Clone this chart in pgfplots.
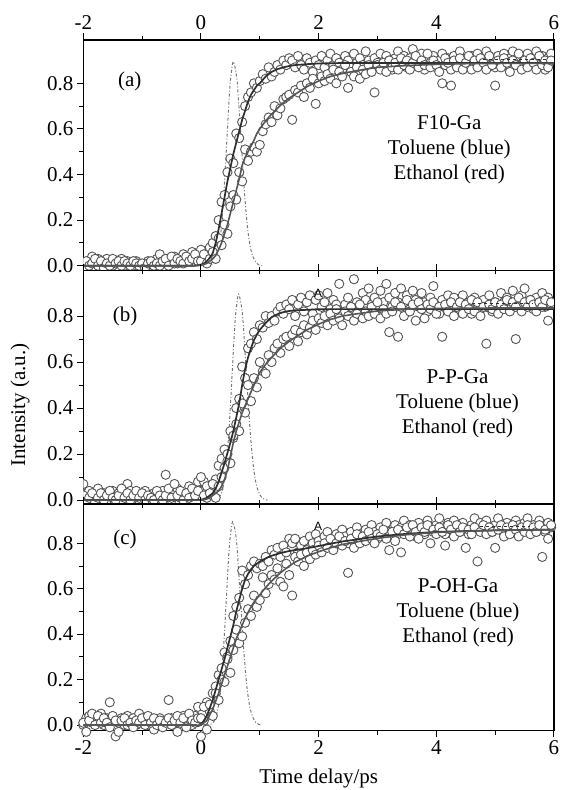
\documentclass[border=0pt]{standalone}
\usepackage{pgfplots}
\pgfplotsset{compat=1.18}
\usepackage{pgfplotstable}
\usepackage{fontspec}
\setmainfont{Liberation Serif}
\newfontfamily\sansA{Liberation Sans}
\definecolor{circ}{HTML}{555555}
\definecolor{fastc}{HTML}{2E2E2E}
\definecolor{slowc}{HTML}{555555}
\definecolor{pulsec}{HTML}{777777}

% measured points: t, (a) toluene/ethanol, (b) ..., (c) ...
\pgfplotstableread{
t a1 a2 b1 b2 c1 c2
-2.00 0.01 -0.01 0.07 0.02 0.00 0.01
-1.95 0.00 0.02 0.03 -0.01 0.03 -0.03
-1.90 0.02 0.00 0.04 0.01 0.04 0.02
-1.85 0.04 0.01 0.00 0.03 0.01 0.05
-1.80 0.01 0.03 0.02 -0.01 0.03 0.00
-1.75 0.03 0.00 0.05 0.01 0.02 0.04
-1.70 0.00 0.02 0.01 0.03 0.05 0.01
-1.65 0.02 -0.01 0.03 0.00 0.00 0.03
-1.60 0.03 0.01 0.00 0.02 0.03 0.01
-1.55 0.01 0.00 0.02 0.04 0.10 -0.01
-1.50 0.00 0.03 0.04 0.01 0.02 0.04
-1.45 0.02 0.01 0.01 0.00 -0.05 0.02
-1.40 0.01 0.02 0.03 0.02 0.01 -0.03
-1.35 0.03 0.00 0.00 0.05 0.03 0.02
-1.30 0.00 0.02 0.02 0.01 0.00 0.03
-1.25 0.02 0.01 0.07 0.03 0.04 0.00
-1.20 0.01 0.00 0.04 0.00 0.02 0.01
-1.15 0.00 0.02 0.01 0.02 0.03 -0.01
-1.10 0.02 0.01 0.03 0.04 0.00 0.02
-1.05 0.01 0.00 0.00 0.01 0.05 0.01
-1.00 0.00 0.01 0.02 0.03 0.01 0.03
-0.95 0.01 -0.01 0.04 0.00 0.03 0.00
-0.90 0.02 0.01 0.01 0.02 0.00 0.04
-0.85 0.00 0.02 0.00 0.01 0.02 0.01
-0.80 0.01 0.00 0.03 0.00 -0.02 0.03
-0.75 0.03 0.01 0.02 0.04 0.01 0.00
-0.70 0.05 0.00 0.01 0.02 0.03 0.02
-0.65 0.02 0.02 0.04 0.00 0.00 -0.01
-0.60 0.01 0.03 0.11 0.02 0.02 0.01
-0.55 0.03 0.00 0.02 0.05 0.11 0.03
-0.50 0.02 0.04 0.00 0.01 0.03 0.00
-0.45 0.04 0.01 0.03 0.07 0.01 0.02
-0.40 0.01 0.03 0.05 0.02 -0.03 0.04
-0.35 0.03 0.02 0.01 0.04 0.02 0.01
-0.30 0.05 0.01 0.02 0.00 0.04 0.03
-0.25 0.02 0.04 0.00 0.03 0.01 -0.01
-0.20 0.04 0.02 0.06 0.01 0.03 0.05
-0.15 0.06 0.03 0.03 0.05 0.00 0.02
-0.10 0.03 0.05 0.05 0.02 0.04 0.01
-0.05 0.05 0.02 0.08 0.04 0.08 0.03
0.00 0.07 0.02 0.04 0.10 -0.05 0.03
0.05 0.03 0.05 0.08 0.02 0.02 0.08
0.10 0.05 0.01 0.01 0.06 0.10 -0.02
0.15 0.08 0.03 0.05 0.03 0.06 0.09
0.20 0.10 0.06 0.02 0.07 0.14 0.04
0.25 0.13 0.03 0.09 0.01 0.17 0.14
0.30 0.20 0.12 0.15 0.06 0.22 0.11
0.35 0.28 0.09 0.18 0.10 0.20 0.25
0.40 0.31 0.18 0.22 0.14 0.32 0.19
0.45 0.41 0.14 0.17 0.20 0.30 0.29
0.50 0.47 0.26 0.30 0.16 0.37 0.23
0.55 0.45 0.31 0.27 0.28 0.48 0.33
0.60 0.58 0.29 0.40 0.33 0.52 0.42
0.65 0.56 0.41 0.44 0.30 0.56 0.36
0.70 0.63 0.37 0.58 0.42 0.68 0.39
0.75 0.70 0.51 0.53 0.38 0.62 0.45
0.80 0.74 0.46 0.66 0.50 0.66 0.51
0.85 0.76 0.50 0.68 0.43 0.70 0.48
0.90 0.80 0.52 0.73 0.53 0.72 0.57
0.95 0.78 0.50 0.70 0.49 0.69 0.52
1.00 0.81 0.53 0.76 0.60 0.71 0.55
1.05 0.84 0.59 0.75 0.56 0.70 0.65
1.10 0.82 0.62 0.80 0.55 0.74 0.58
1.15 0.87 0.65 0.77 0.63 0.72 0.62
1.20 0.83 0.63 0.80 0.60 0.77 0.66
1.25 0.85 0.70 0.78 0.66 0.75 0.64
1.30 0.88 0.66 0.82 0.68 0.78 0.69
1.35 0.86 0.69 0.84 0.64 0.74 0.63
1.40 0.90 0.73 0.81 0.70 0.79 0.61
1.45 0.88 0.74 0.85 0.71 0.76 0.71
1.50 0.91 0.75 0.83 0.67 0.82 0.66
1.55 0.90 0.64 0.87 0.72 0.80 0.57
1.60 0.87 0.77 0.80 0.74 0.82 0.74
1.65 0.92 0.76 0.85 0.69 0.76 0.72
1.70 0.88 0.79 0.88 0.73 0.79 0.75
1.75 0.86 0.74 0.82 0.76 0.81 0.70
1.80 0.91 0.80 0.86 0.72 0.77 0.76
1.85 0.89 0.78 0.89 0.75 0.83 0.73
1.90 0.85 0.82 0.81 0.78 0.80 0.77
1.95 0.90 0.71 0.87 0.74 0.84 0.75
2.00 0.88 0.80 0.89 0.79 0.81 0.79
2.05 0.92 0.83 0.84 0.77 0.78 0.76
2.10 0.87 0.81 0.86 0.80 0.83 0.80
2.15 0.90 0.84 0.90 0.76 0.85 0.78
2.20 0.93 0.82 0.83 0.81 0.80 0.82
2.25 0.88 0.86 0.87 0.78 0.82 0.77
2.30 0.91 0.80 0.85 0.83 0.84 0.80
2.35 0.89 0.85 0.94 0.79 0.81 0.83
2.40 0.86 0.83 0.82 0.76 0.86 0.79
2.45 0.92 0.88 0.85 0.82 0.83 0.81
2.50 0.90 0.78 0.88 0.80 0.80 0.67
2.55 0.87 0.85 0.84 0.84 0.85 0.82
2.60 0.93 0.83 0.96 0.78 0.82 0.78
2.65 0.89 0.87 0.86 0.81 0.87 0.84
2.70 0.91 0.82 0.83 0.85 0.84 0.80
2.75 0.88 0.86 0.90 0.79 0.81 0.83
2.80 0.94 0.84 0.87 0.82 0.86 0.81
2.85 0.90 0.88 0.92 0.80 0.83 0.85
2.90 0.87 0.85 0.85 0.84 0.88 0.82
2.95 0.91 0.76 0.88 0.81 0.85 0.80
3.00 0.89 0.88 0.83 0.86 0.82 0.84
3.05 0.93 0.86 0.91 0.79 0.87 0.83
3.10 0.88 0.89 0.86 0.83 0.84 0.86
3.15 0.92 0.85 0.94 0.81 0.89 0.82
3.20 0.90 0.90 0.88 0.73 0.85 0.77
3.25 0.86 0.87 0.84 0.82 0.83 0.85
3.30 0.91 0.89 0.90 0.86 0.88 0.81
3.35 0.94 0.86 0.86 0.71 0.84 0.86
3.40 0.89 0.91 0.92 0.84 0.87 0.76
3.45 0.92 0.88 0.85 0.80 0.90 0.84
3.50 0.87 0.90 0.89 0.87 0.85 0.87
3.55 0.91 0.86 0.83 0.82 0.88 0.83
3.60 0.95 0.89 0.91 0.85 0.86 0.88
3.65 0.88 0.92 0.87 0.78 0.83 0.85
3.70 0.90 0.87 0.84 0.86 0.89 0.82
3.75 0.93 0.90 0.90 0.83 0.86 0.87
3.80 0.86 0.88 0.86 0.79 0.84 0.85
3.85 0.91 0.93 0.82 0.85 0.90 0.88
3.90 0.89 0.87 0.88 0.83 0.87 0.80
3.95 0.92 0.90 0.93 0.86 0.85 0.86
4.00 0.87 0.88 0.85 0.81 0.88 0.84
4.05 0.90 0.85 0.81 0.84 0.91 0.87
4.10 0.93 0.80 0.87 0.71 0.86 0.85
4.15 0.88 0.91 0.84 0.85 0.84 0.79
4.20 0.91 0.89 0.89 0.82 0.89 0.88
4.25 0.86 0.79 0.83 0.86 0.86 0.86
4.30 0.92 0.90 0.88 0.80 0.90 0.83
4.35 0.89 0.87 0.85 0.84 0.87 0.88
4.40 0.94 0.91 0.82 0.86 0.85 0.85
4.45 0.88 0.86 0.89 0.81 0.89 0.87
4.50 0.91 0.89 0.84 0.85 0.86 0.78
4.55 0.87 0.92 0.86 0.83 0.84 0.86
4.60 0.92 0.86 0.81 0.87 0.88 0.84
4.65 0.89 0.90 0.88 0.82 0.91 0.87
4.70 0.93 0.87 0.85 0.86 0.86 0.72
4.75 0.88 0.91 0.83 0.80 0.89 0.85
4.80 0.90 0.89 0.87 0.84 0.85 0.88
4.85 0.94 0.86 0.84 0.68 0.90 0.84
4.90 0.89 0.92 0.89 0.85 0.87 0.87
4.95 0.91 0.88 0.82 0.83 0.85 0.85
5.00 0.87 0.79 0.86 0.86 0.88 0.78
5.05 0.92 0.90 0.84 0.81 0.91 0.86
5.10 0.89 0.87 0.90 0.85 0.86 0.88
5.15 0.93 0.91 0.86 0.83 0.84 0.83
5.20 0.88 0.89 0.88 0.87 0.89 0.87
5.25 0.91 0.85 0.83 0.82 0.87 0.84
5.30 0.94 0.90 0.91 0.86 0.85 0.88
5.35 0.89 0.88 0.70 0.84 0.90 0.86
5.40 0.92 0.93 0.84 0.88 0.88 0.83
5.45 0.87 0.86 0.89 0.82 0.86 0.87
5.50 0.91 0.90 0.92 0.86 0.89 0.85
5.55 0.93 0.87 0.85 0.84 0.91 0.88
5.60 0.88 0.91 0.87 0.87 0.86 0.84
5.65 0.91 0.89 0.83 0.85 0.88 0.87
5.70 0.94 0.86 0.88 0.82 0.85 0.85
5.75 0.89 0.92 0.86 0.86 0.90 0.88
5.80 0.92 0.88 0.90 0.84 0.87 0.74
5.85 0.86 0.90 0.84 0.87 0.85 0.86
5.90 0.91 0.87 0.88 0.78 0.89 0.82
5.95 0.93 0.90 0.85 0.86 0.87 0.88
}\pts

% fitted curves
\pgfplotstableread{
t fa sa fb sb fc sc
-2.00 0 0 0 0 0 0
-0.10 0 0 0 0 0 0
-0.05 0.002 0.001 0 0 -0.004 -0.002
0.00 0.005 0.003 0.00 0.00 0.00 0.00
0.05 0.01 0.006 0.005 0.002 0.02 0.01
0.10 0.02 0.01 0.01 0.005 0.04 0.02
0.15 0.035 0.02 0.02 0.01 0.075 0.045
0.20 0.055 0.03 0.03 0.02 0.11 0.07
0.25 0.10 0.045 0.05 0.03 0.155 0.105
0.30 0.16 0.07 0.08 0.04 0.20 0.14
0.35 0.23 0.10 0.12 0.06 0.245 0.18
0.40 0.30 0.14 0.16 0.09 0.29 0.22
0.45 0.37 0.18 0.205 0.13 0.34 0.26
0.50 0.43 0.23 0.25 0.19 0.39 0.30
0.55 0.49 0.28 0.30 0.25 0.44 0.34
0.60 0.54 0.33 0.36 0.30 0.50 0.38
0.65 0.59 0.38 0.42 0.34 0.55 0.41
0.70 0.64 0.44 0.50 0.38 0.60 0.44
0.75 0.68 0.475 0.57 0.41 0.64 0.47
0.80 0.72 0.50 0.62 0.44 0.665 0.495
0.85 0.75 0.525 0.66 0.47 0.685 0.52
0.90 0.77 0.55 0.695 0.50 0.70 0.54
0.95 0.79 0.58 0.72 0.53 0.71 0.557
1.00 0.80 0.60 0.74 0.555 0.72 0.573
1.05 0.815 0.618 0.755 0.573 0.727 0.59
1.10 0.83 0.635 0.77 0.59 0.733 0.605
1.15 0.84 0.65 0.783 0.605 0.74 0.62
1.20 0.85 0.665 0.795 0.62 0.745 0.633
1.25 0.856 0.678 0.802 0.633 0.749 0.646
1.30 0.862 0.69 0.808 0.646 0.753 0.658
1.35 0.866 0.703 0.813 0.66 0.757 0.67
1.40 0.87 0.715 0.817 0.67 0.76 0.68
1.45 0.873 0.725 0.82 0.68 0.763 0.69
1.50 0.876 0.735 0.822 0.69 0.766 0.70
1.60 0.88 0.752 0.825 0.707 0.77 0.717
1.80 0.884 0.785 0.827 0.74 0.778 0.743
2.00 0.887 0.81 0.83 0.765 0.788 0.763
2.20 0.888 0.83 0.83 0.785 0.798 0.78
2.40 0.889 0.843 0.83 0.80 0.808 0.795
2.60 0.889 0.853 0.83 0.808 0.815 0.804
2.80 0.889 0.862 0.83 0.815 0.823 0.813
3.00 0.889 0.87 0.83 0.822 0.83 0.822
3.50 0.889 0.878 0.83 0.83 0.842 0.838
4.00 0.889 0.883 0.83 0.833 0.85 0.848
4.50 0.889 0.886 0.83 0.834 0.854 0.853
5.00 0.889 0.887 0.83 0.835 0.857 0.857
6.00 0.889 0.888 0.83 0.835 0.86 0.86
}\fits

% pump pulse (cross-correlation), one per panel
\pgfplotstableread{
t v
0.09 0
0.19 0.005
0.24 0.02
0.29 0.06
0.34 0.15
0.39 0.32
0.44 0.55
0.49 0.78
0.54 0.89
0.57 0.88
0.61 0.82
0.64 0.72
0.69 0.52
0.74 0.32
0.79 0.17
0.84 0.08
0.89 0.035
0.94 0.012
0.99 0.003
1.04 0
}\pulsea
\pgfplotstableread{
t v
0.18 0
0.28 0.005
0.33 0.02
0.38 0.06
0.43 0.15
0.48 0.32
0.53 0.55
0.58 0.78
0.63 0.89
0.66 0.88
0.70 0.82
0.73 0.72
0.78 0.52
0.83 0.32
0.88 0.17
0.93 0.08
0.98 0.035
1.03 0.012
1.08 0.003
1.13 0
}\pulseb
\pgfplotstableread{
t v
0.08 0
0.18 0.005
0.23 0.02
0.28 0.06
0.33 0.15
0.38 0.32
0.43 0.55
0.48 0.78
0.53 0.89
0.56 0.88
0.60 0.82
0.63 0.72
0.68 0.52
0.73 0.32
0.78 0.17
0.83 0.08
0.88 0.035
0.93 0.012
0.98 0.003
1.03 0
}\pulsec

\pgfplotsset{
  panel/.style={
    scale only axis, width=470.7pt, anchor=south west,
    xmin=-2, xmax=6,
    xtick={-2,0,2,4,6}, minor x tick num=1,
    ytick={0,0.2,0.4,0.6,0.8}, yticklabels={0.0,0.2,0.4,0.6,0.8},
    minor y tick num=1,
    tick align=outside, ytick pos=left, xtick pos=both,
    major tick length=6.5pt, minor tick length=4pt,
    axis line style={line width=1.2pt},
    every tick/.style={black, line width=1pt},
    tick label style={font=\fontsize{21}{24}\selectfont},
    clip marker paths=true,
  },
  datapts/.style={only marks, mark=*, mark size=4.6pt,
    mark options={draw=circ, fill=white, line width=0.9pt}},
  fitfast/.style={mark=none, draw=fastc, line width=1.7pt},
  fitslow/.style={mark=none, draw=slowc, line width=1.6pt},
  irf/.style={mark=none, draw=pulsec, line width=1pt, dash dot, smooth},
}

\begin{document}
\begin{tikzpicture}
\path[use as bounding box] (0,0) rectangle (565pt,790pt);

% (a)
\begin{axis}[panel, at={(83.3pt,519.5pt)}, height=230.5pt,
  ymin=-0.021, ymax=0.99,
  xticklabel pos=upper, xticklabels={-2,0,2,4,6}]
\addplot[irf] table[x=t,y=v] {\pulsea};
\addplot[datapts] table[x=t,y=a1] {\pts};
\addplot[datapts] table[x=t,y=a2] {\pts};
\addplot[fitfast] table[x=t,y=fa] {\fits};
\addplot[fitslow] table[x=t,y=sa] {\fits};
\addplot[mark=none, draw=fastc, line width=0.8pt, dashed] coordinates {(4.8,0.905) (5.9,0.905)};
\node[font=\fontsize{21}{24}\selectfont] at (axis cs:-1.21,0.807) {(a)};
\node[font=\fontsize{21}{25}\selectfont, align=center] at (axis cs:4.22,0.51)
  {F10-Ga\\Toluene (blue)\\Ethanol (red)};
\end{axis}

% (b)
\begin{axis}[panel, at={(83.3pt,286pt)}, height=233.5pt,
  ymin=-0.017, ymax=0.998, xticklabels={}]
\addplot[irf] table[x=t,y=v] {\pulseb};
\addplot[datapts] table[x=t,y=b1] {\pts};
\addplot[datapts] table[x=t,y=b2] {\pts};
\addplot[fitfast] table[x=t,y=fb] {\fits};
\addplot[fitslow] table[x=t,y=sb] {\fits};
\addplot[mark=none, draw=fastc, line width=0.8pt, dashed] coordinates {(4.6,0.855) (5.65,0.855)};
\node[font=\sansA\fontsize{12}{12}\selectfont] at (axis cs:1.99,0.90) {A};
\node[font=\fontsize{21}{24}\selectfont] at (axis cs:-1.29,0.80) {(b)};
\node[font=\fontsize{21}{25}\selectfont, align=center] at (axis cs:4.36,0.42)
  {P-P-Ga\\Toluene (blue)\\Ethanol (red)};
\end{axis}

% (c)
\begin{axis}[panel, at={(83.3pt,59.3pt)}, height=226.7pt,
  ymin=-0.025, ymax=0.973, clip=false,
  xticklabel pos=lower, xticklabels={-2,0,2,4,6}]
\addplot[irf] table[x=t,y=v] {\pulsec};
\addplot[datapts] table[x=t,y=c1] {\pts};
\addplot[datapts] table[x=t,y=c2] {\pts};
\addplot[fitfast] table[x=t,y=fc] {\fits};
\addplot[fitslow] table[x=t,y=sc] {\fits};
\addplot[mark=none, draw=fastc, line width=0.8pt, dashed] coordinates {(4.75,0.874) (5.6,0.874)};
\node[font=\sansA\fontsize{12}{12}\selectfont] at (axis cs:1.99,0.874) {A};
\node[font=\fontsize{21}{24}\selectfont] at (axis cs:-1.29,0.815) {(c)};
\node[font=\fontsize{21}{25}\selectfont, align=center] at (axis cs:4.37,0.492)
  {P-OH-Ga\\Toluene (blue)\\Ethanol (red)};
\end{axis}

\node[rotate=90, font=\fontsize{21}{24}\selectfont] at (20pt,385pt) {Intensity (a.u.)};
\node[font=\fontsize{21}{24}\selectfont] at (318.7pt,12pt) {Time delay/ps};
\end{tikzpicture}
\end{document}
